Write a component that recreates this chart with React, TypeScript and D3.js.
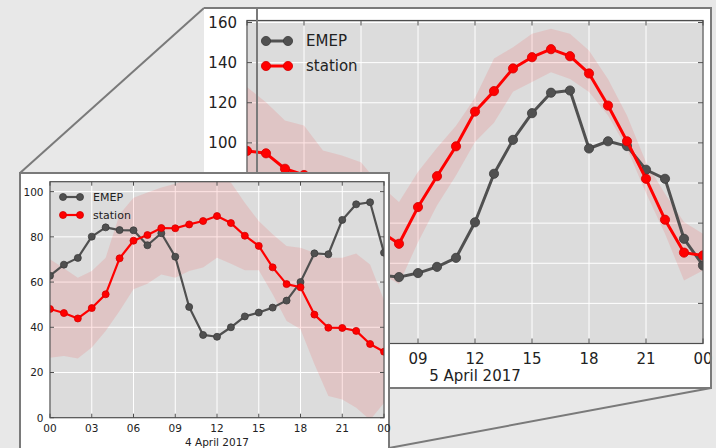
import React from "react";
import * as d3 from "d3";

// ---------- data ----------
const HOURS = [0, 1, 2, 3, 4, 5, 6, 7, 8, 9, 10, 11, 12, 13, 14, 15, 16, 17, 18, 19, 20, 21, 22, 23, 24];
const X_TICK_HOURS = [0, 3, 6, 9, 12, 15, 18, 21, 24];
const X_TICK_LABELS = ["00", "03", "06", "09", "12", "15", "18", "21", "00"];
const SERIES_NAMES = ["EMEP", "station"];

// 4 April 2017 (small, front panel)
const SMALL_DATE = "4 April 2017";
const SMALL_Y_TICKS = [0, 20, 40, 60, 80, 100];
const smallEmep = [62.8, 67.7, 70.7, 80.1, 84.2, 83.0, 82.9, 76.3, 81.6, 71.2, 49.0, 36.6, 35.8, 40.0, 44.8, 46.5, 48.7, 51.8, 60.0, 72.7, 72.3, 87.5, 94.4, 95.3, 73.0];
const smallStation = [48.1, 46.3, 43.9, 48.5, 54.6, 70.5, 78.3, 80.8, 83.9, 83.8, 85.5, 87.0, 89.2, 86.1, 80.5, 76.0, 66.5, 59.1, 57.7, 45.6, 39.8, 39.7, 38.4, 32.6, 29.2];
const smallBandHigh = [70.1, 66.1, 61.9, 64.9, 70.8, 90.0, 97.3, 99.6, 101.8, 103.5, 105.5, 106.5, 107.0, 104.0, 95.1, 87.0, 81.1, 76.0, 75.2, 73.0, 70.8, 70.8, 72.6, 67.8, 52.0];
const smallBandLow = [26.5, 27.3, 26.2, 31.0, 38.3, 47.2, 56.8, 59.3, 63.4, 61.9, 64.9, 66.4, 70.8, 68.1, 65.2, 65.2, 54.6, 42.8, 39.1, 23.6, 9.6, 8.1, 4.4, -1.0, 6.5];

// 5 April 2017 (large, back panel)
const LARGE_DATE = "5 April 2017";
const LARGE_Y_TICKS = [0, 20, 40, 60, 80, 100, 120, 140, 160];
const largeEmep = [68, 62, 55, 48, 42, 38, 35, 34, 33.1, 35.1, 38.2, 42.7, 60.4, 84.6, 101.5, 114.8, 125.0, 126.1, 97.2, 100.8, 98.4, 86.6, 82.1, 52.2, 38.9];
const largeStation = [96.0, 94.8, 87.1, 84.0, 78, 70, 63, 56, 49.7, 68.0, 83.4, 98.3, 115.6, 125.8, 137.1, 142.7, 146.7, 143.2, 134.6, 118.6, 100.8, 82.1, 61.7, 45.3, 43.9];
const largeBandHigh = [127.8, 120.3, 111.2, 108.7, 96.2, 93.7, 90.4, 79, 70.5, 85.6, 97.6, 108.6, 122.5, 142.0, 147.7, 154.4, 156.9, 154.4, 146.1, 131.9, 113.6, 90.4, 74.6, 60.5, 54.7];
const largeBandLow = [75, 72, 66, 62, 55, 48, 42, 35, 29.7, 50.5, 68.8, 83.7, 100.5, 110.0, 125.5, 130.3, 135.2, 131.9, 125.3, 113.7, 97.1, 75.0, 54.7, 31.4, 36.4];

// ---------- styling ----------
const BG = "#e8e8e8";
const PLOT_BG = "#dcdcdc";
const FRAME = "#7a7a7a";
const SPINE = "#4d4d4d";
const EMEP_COLOR = "#505050";
const EMEP_EDGE = "#3c3c3c";
const STATION_COLOR = "#ff0000";
const STATION_EDGE = "#d40000";
const FONT = "'DejaVu Sans', Verdana, sans-serif";

type PanelProps = {
  id: string;
  left: number;
  right: number;
  top: number;
  bottom: number;
  yMax: number;
  yTicks: number[];
  emep: number[];
  station: number[];
  low: number[];
  high: number[];
  date: string;
  tickFont: number;
  legendFont: number;
  tickLen: number;
  r: number;
  lw: number;
  xLabelDy: number;
  dateDy: number;
  yLabelGap: number;
  legend: { x0: number; x1: number; y0: number; y1: number; tx: number };
};

function Panel(p: PanelProps) {
  const x = d3.scaleLinear().domain([0, 24]).range([p.left, p.right]);
  const y = d3.scaleLinear().domain([0, p.yMax]).range([p.bottom, p.top]);
  const line = d3
    .line<number>()
    .x((_, i) => x(HOURS[i]))
    .y((d) => y(d));
  const area = d3
    .area<number>()
    .x((_, i) => x(HOURS[i]))
    .y0((_, i) => y(p.low[i]))
    .y1((d) => y(d));
  const clipId = `clip-${p.id}`;
  const w = p.right - p.left;
  const h = p.bottom - p.top;
  const series = [
    { name: SERIES_NAMES[0], vals: p.emep, color: EMEP_COLOR, edge: EMEP_EDGE },
    { name: SERIES_NAMES[1], vals: p.station, color: STATION_COLOR, edge: STATION_EDGE },
  ];
  return (
    <g>
      <defs>
        <clipPath id={clipId}>
          <rect x={p.left} y={p.top} width={w} height={h} />
        </clipPath>
      </defs>
      <rect x={p.left} y={p.top} width={w} height={h} fill={PLOT_BG} />
      <g clipPath={`url(#${clipId})`}>
        {X_TICK_HOURS.map((t, i) => (
          <line key={`gx${i}`} x1={x(t)} x2={x(t)} y1={p.top} y2={p.bottom} stroke="#ffffff" strokeWidth={1} />
        ))}
        {p.yTicks.map((t) => (
          <line key={`gy${t}`} x1={p.left} x2={p.right} y1={y(t)} y2={y(t)} stroke="#ffffff" strokeWidth={1} />
        ))}
        <path d={area(p.high) || ""} fill="#ff0000" fillOpacity={0.1} stroke="none" />
        {series.map((s) => (
          <g key={s.name}>
            <path d={line(s.vals) || ""} fill="none" stroke={s.color} strokeWidth={p.lw} strokeLinejoin="round" />
            {s.vals.map((v, i) => (
              <circle key={i} cx={x(HOURS[i])} cy={y(v)} r={p.r} fill={s.color} stroke={s.edge} strokeWidth={0.8} />
            ))}
          </g>
        ))}
      </g>
      {/* ticks (inside, all four sides) */}
      {X_TICK_HOURS.map((t, i) => (
        <g key={`tx${i}`}>
          <line x1={x(t)} x2={x(t)} y1={p.bottom} y2={p.bottom - p.tickLen} stroke={SPINE} strokeWidth={1} />
          <line x1={x(t)} x2={x(t)} y1={p.top} y2={p.top + p.tickLen} stroke={SPINE} strokeWidth={1} />
          <text
            x={x(t)}
            y={p.bottom + p.xLabelDy}
            textAnchor="middle"
            dominantBaseline="central"
            fontSize={p.tickFont}
            fontFamily={FONT}
            fill="#222"
          >
            {X_TICK_LABELS[i]}
          </text>
        </g>
      ))}
      <text
        x={x(12)}
        y={p.bottom + p.dateDy}
        textAnchor="middle"
        dominantBaseline="central"
        fontSize={p.tickFont}
        fontFamily={FONT}
        fill="#222"
      >
        {p.date}
      </text>
      {p.yTicks.map((t) => (
        <g key={`ty${t}`}>
          <line x1={p.left} x2={p.left + p.tickLen} y1={y(t)} y2={y(t)} stroke={SPINE} strokeWidth={1} />
          <line x1={p.right} x2={p.right - p.tickLen} y1={y(t)} y2={y(t)} stroke={SPINE} strokeWidth={1} />
          <text
            x={p.left - p.yLabelGap}
            y={y(t)}
            textAnchor="end"
            dominantBaseline="central"
            fontSize={p.tickFont}
            fontFamily={FONT}
            fill="#222"
          >
            {t}
          </text>
        </g>
      ))}
      <rect x={p.left} y={p.top} width={w} height={h} fill="none" stroke={SPINE} strokeWidth={1.2} />
      {/* legend */}
      {series.map((s, i) => {
        const ly = i === 0 ? p.legend.y0 : p.legend.y1;
        return (
          <g key={`lg${i}`}>
            <line x1={p.legend.x0} x2={p.legend.x1} y1={ly} y2={ly} stroke={s.color} strokeWidth={p.lw} />
            <circle cx={p.legend.x0} cy={ly} r={p.r} fill={s.color} stroke={s.edge} strokeWidth={0.8} />
            <circle cx={p.legend.x1} cy={ly} r={p.r} fill={s.color} stroke={s.edge} strokeWidth={0.8} />
            <text
              x={p.legend.tx}
              y={ly}
              dominantBaseline="central"
              fontSize={p.legendFont}
              fontFamily={FONT}
              fill="#222"
            >
              {s.name}
            </text>
          </g>
        );
      })}
    </g>
  );
}

export default function App() {
  return (
    <div style={{ position: "fixed", left: 0, top: 0 }}>
      <svg width={716} height={448} style={{ display: "block" }}>
        <rect x={0} y={0} width={716} height={448} fill={BG} />
        {/* connector lines */}
        <line x1={204} y1={8} x2={20} y2={173} stroke={FRAME} strokeWidth={2} />
        <line x1={711} y1={388} x2={389} y2={448} stroke={FRAME} strokeWidth={2} />
        {/* large (back) panel */}
        <rect x={204} y={8} width={507} height={380} fill="#ffffff" />
        <Panel
          id="large"
          left={247}
          right={703}
          top={20.5}
          bottom={343.5}
          yMax={161}
          yTicks={LARGE_Y_TICKS}
          emep={largeEmep}
          station={largeStation}
          low={largeBandLow}
          high={largeBandHigh}
          date={LARGE_DATE}
          tickFont={15}
          legendFont={15}
          tickLen={5}
          r={4.6}
          lw={3}
          xLabelDy={15.5}
          dateDy={32}
          yLabelGap={10}
          legend={{ x0: 266, x1: 288, y0: 41, y1: 66, tx: 306 }}
        />
        <polyline points="204,8 711,8 711,388 204,388" fill="none" stroke={FRAME} strokeWidth={2} />
        <line x1={257} y1={8} x2={257} y2={174} stroke={FRAME} strokeWidth={2} />
        {/* small (front) panel */}
        <rect x={20} y={173} width={369} height={290} fill="#ffffff" stroke={FRAME} strokeWidth={2} />
        <Panel
          id="small"
          left={50}
          right={384}
          top={181.7}
          bottom={417.7}
          yMax={104.4}
          yTicks={SMALL_Y_TICKS}
          emep={smallEmep}
          station={smallStation}
          low={smallBandLow}
          high={smallBandHigh}
          date={SMALL_DATE}
          tickFont={10.5}
          legendFont={11}
          tickLen={4}
          r={3.5}
          lw={2.2}
          xLabelDy={10.5}
          dateDy={24}
          yLabelGap={6.5}
          legend={{ x0: 63, x1: 80, y0: 197, y1: 215, tx: 93 }}
        />
      </svg>
    </div>
  );
}
